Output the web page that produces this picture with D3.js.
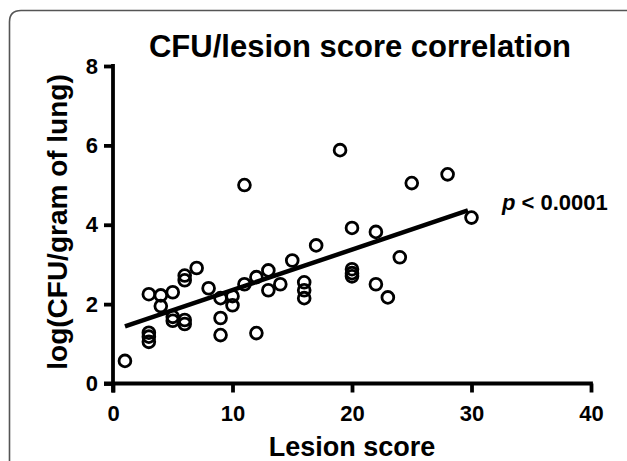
<!DOCTYPE html>
<html><head><meta charset="utf-8">
<script src="https://cdn.jsdelivr.net/npm/d3@7"></script>
<style>
html,body{margin:0;padding:0;background:#fff;}
svg text{font-family:"Liberation Sans",Arial,sans-serif;font-weight:bold;fill:#000;}
</style></head>
<body>
<svg id="chart" width="627" height="461"></svg>
<script>
// Data
const lesionScore = [1, 3, 3, 3, 3, 4, 4, 5, 5, 5, 6, 6, 6, 6, 7, 8, 9, 9, 9, 10, 10, 11, 11, 12, 12, 13, 13, 14, 15, 16, 16, 16, 17, 19, 20, 20, 20, 20, 22, 22, 23, 24, 25, 28, 30];
const logCFU     = [0.57, 2.25, 1.28, 1.18, 1.05, 2.22, 1.95, 2.3, 1.68, 1.58, 2.72, 2.6, 1.6, 1.5, 2.91, 2.4, 2.15, 1.65, 1.22, 2.2, 1.97, 5.0, 2.5, 2.68, 1.27, 2.85, 2.35, 2.5, 3.1, 2.55, 2.35, 2.15, 3.48, 5.88, 3.92, 2.88, 2.78, 2.7, 3.82, 2.5, 2.17, 3.18, 5.05, 5.27, 4.18];
const fitX = [1, 29.7];
const fitY = [1.44, 4.36];
const xTicks = [0, 10, 20, 30, 40];
const yTicks = [0, 2, 4, 6, 8];
const titleText = "CFU/lesion score correlation";
const xLabel = "Lesion score";
const yLabel = "log(CFU/gram of lung)";

const svg = d3.select("#chart");
const FONT = '"Liberation Sans",Arial,sans-serif';

// frame (rounded top-left, open to the right/bottom)
svg.append("path")
  .attr("d", "M9.5,461 L9.5,22 Q9.5,10.5 21,10.5 L627,10.5")
  .attr("fill", "none").attr("stroke", "#555").attr("stroke-width", 1.6);

const x = d3.scaleLinear().domain([0, 40]).range([113, 591]);
const y = d3.scaleLinear().domain([0, 8]).range([383.5, 66]);

// axes
const xAxis = svg.append("g").attr("transform", `translate(0,${y(0)})`)
  .call(d3.axisBottom(x).tickValues(xTicks).tickSize(9).tickSizeOuter(0).tickPadding(13));
const yAxis = svg.append("g").attr("transform", `translate(${x(0)},0)`)
  .call(d3.axisLeft(y).tickValues(yTicks).tickSize(9).tickSizeOuter(0).tickPadding(6));
[xAxis, yAxis].forEach(g => {
  g.attr("font-size", null).attr("font-family", null);
  g.select(".domain").attr("stroke", "#000").attr("stroke-width", 3.8);
  g.selectAll(".tick line").attr("stroke", "#000").attr("stroke-width", 3.8);
  g.selectAll(".tick text").style("font-size", "22px").style("font-weight", "bold")
    .style("font-family", FONT).attr("fill", "#000");
});
yAxis.select(".domain").attr("d", `M0,${y(8) - 1.9}V${y(0) + 9}`);
xAxis.select(".domain").attr("d", `M${x(0) - 9},0H${x(40) + 1.9}`);

// regression line
svg.append("line")
  .attr("x1", x(fitX[0])).attr("y1", y(fitY[0]))
  .attr("x2", x(fitX[1])).attr("y2", y(fitY[1]))
  .attr("stroke", "#000").attr("stroke-width", 4.5);

// points
svg.append("g").selectAll("circle")
  .data(lesionScore.map((d, i) => [d, logCFU[i]]))
  .join("circle")
  .attr("cx", d => x(d[0])).attr("cy", d => y(d[1]))
  .attr("r", 5.9)
  .attr("fill", "none").attr("stroke", "#000").attr("stroke-width", 2.8);

// title
svg.append("text").attr("x", 360).attr("y", 57).attr("text-anchor", "middle")
  .style("font-size", "31px").text(titleText);
// x label
svg.append("text").attr("x", 352).attr("y", 456).attr("text-anchor", "middle")
  .style("font-size", "27px").text(xLabel);
// y label
svg.append("text").attr("transform", "translate(67,222) rotate(-90)").attr("text-anchor", "middle")
  .style("font-size", "28px").text(yLabel);
// p value
const pt = svg.append("text").attr("x", 502).attr("y", 210).style("font-size", "22px");
pt.append("tspan").style("font-style", "italic").text("p");
pt.append("tspan").text(" < 0.0001");
</script>
</body></html>
